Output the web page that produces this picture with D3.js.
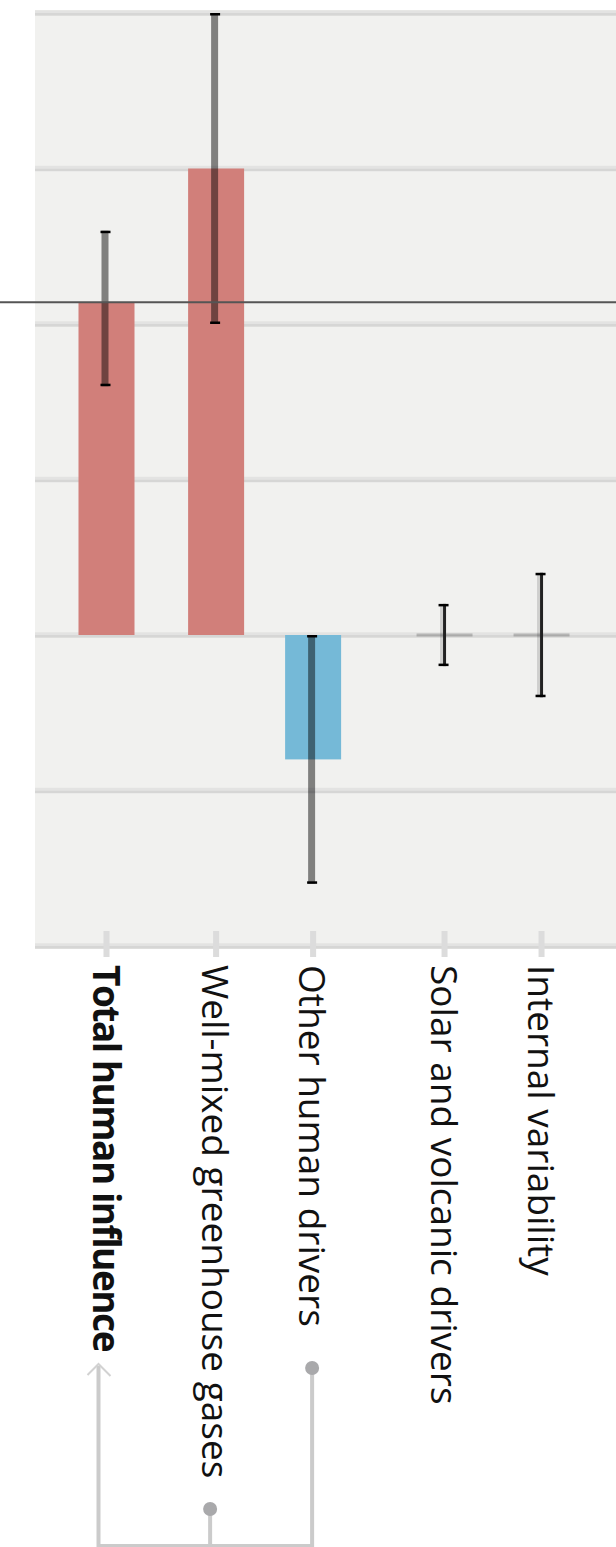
<!DOCTYPE html>
<html>
<head>
<meta charset="utf-8">
<script src="https://cdn.jsdelivr.net/npm/d3@7"></script>
<style>
  html, body { margin: 0; padding: 0; background: #ffffff; }
  svg { display: block; }
</style>
</head>
<body>
<svg id="chart" width="616" height="1547"></svg>
<script>
// Contributions to warming (°C), with likely ranges
const categories = [
  "Total human influence",
  "Well-mixed greenhouse gases",
  "Other human drivers",
  "Solar and volcanic drivers",
  "Internal variability"
];
const groups = ["total", "human", "human", "natural", "natural"];
const values = [1.07, 1.5, -0.4, 0.0, 0.0];
const lowValues = [0.8, 1.0, -0.8, -0.1, -0.2];
const highValues = [1.3, 2.0, 0.0, 0.1, 0.2];
const observedWarming = 1.07;
const yTicks = [-1, -0.5, 0, 0.5, 1, 1.5, 2];
const emphasised = ["Total human influence"];

const W = 616;
const svg = d3.select("#chart");

const plotLeft = 35;
const y = d3.scaleLinear().domain([-1, 2]).range([946, 13]);

// Bars sit on evenly spaced slots, with extra room between groups
const slot = d3.scaleLinear().domain([0, 1]).range([106.5, 203.5]);
const groupShift = { total: 0, human: 0.13, natural: 0.485 };
const x = d3.scaleOrdinal()
  .domain(categories)
  .range(categories.map((c, i) => slot(i + groupShift[groups[i]])));
const barWidth = 56;

const rows = categories.map((c, i) => ({
  name: c, group: groups[i], value: values[i], lo: lowValues[i], hi: highValues[i]
}));

// Plot panel
svg.append("rect")
  .attr("x", plotLeft).attr("y", y(2) - 3)
  .attr("width", W - plotLeft).attr("height", y(-1) - y(2) + 6)
  .attr("fill", "#f1f1ef");

// Gridlines
const grid = svg.append("g");
grid.selectAll("rect.gl").data(yTicks).join("rect")
  .attr("class", "gl")
  .attr("x", plotLeft).attr("width", W - plotLeft)
  .attr("y", d => y(d) - 2.7).attr("height", 2.7)
  .attr("fill", "#e3e3e2");
grid.selectAll("rect.gd").data(yTicks).join("rect")
  .attr("class", "gd")
  .attr("x", plotLeft).attr("width", W - plotLeft)
  .attr("y", d => y(d)).attr("height", 2.7)
  .attr("fill", "#d6d6d5");

// Category ticks under the panel
svg.append("g").selectAll("rect").data(categories).join("rect")
  .attr("x", d => x(d) - 3).attr("width", 6)
  .attr("y", 931).attr("height", 26)
  .attr("fill", "#dcdcdc");

// Bars
const bars = svg.append("g");
bars.selectAll("rect").data(rows.filter(d => d.value !== 0)).join("rect")
  .attr("x", d => x(d.name) - barWidth / 2)
  .attr("width", barWidth)
  .attr("y", d => y(Math.max(0, d.value)))
  .attr("height", d => Math.abs(y(d.value) - y(0)))
  .attr("fill", d => d.value > 0 ? "#d17f7a" : "#75b9d7");
bars.selectAll("line").data(rows.filter(d => d.value === 0)).join("line")
  .attr("x1", d => x(d.name) - barWidth / 2)
  .attr("x2", d => x(d.name) + barWidth / 2)
  .attr("y1", d => y(d.value)).attr("y2", d => y(d.value))
  .attr("stroke", "rgba(0,0,0,0.2)").attr("stroke-width", 3);

// Likely ranges
const err = svg.append("g");
err.selectAll("line.wide").data(rows.filter(d => d.value !== 0)).join("line")
  .attr("class", "wide")
  .attr("x1", d => x(d.name) - 1.5).attr("x2", d => x(d.name) - 1.5)
  .attr("y1", d => y(d.lo)).attr("y2", d => y(d.hi))
  .attr("stroke", "rgba(0,0,0,0.47)").attr("stroke-width", 7);
err.selectAll("line.soft").data(rows.filter(d => d.value === 0)).join("line")
  .attr("class", "soft")
  .attr("x1", d => x(d.name) - 3).attr("x2", d => x(d.name) - 3)
  .attr("y1", d => y(d.lo)).attr("y2", d => y(d.hi))
  .attr("stroke", "rgba(0,0,0,0.14)").attr("stroke-width", 3);
err.selectAll("line.core").data(rows.filter(d => d.value === 0)).join("line")
  .attr("class", "core")
  .attr("x1", d => x(d.name)).attr("x2", d => x(d.name))
  .attr("y1", d => y(d.lo)).attr("y2", d => y(d.hi))
  .attr("stroke", "#222").attr("stroke-width", 3);
err.selectAll("rect.top").data(rows).join("rect")
  .attr("class", "top")
  .attr("x", d => x(d.name) - 6).attr("width", 10)
  .attr("y", d => y(d.hi)).attr("height", 2.5)
  .attr("fill", "#000");
err.selectAll("rect.bot").data(rows).join("rect")
  .attr("class", "bot")
  .attr("x", d => x(d.name) - 6).attr("width", 10)
  .attr("y", d => y(d.lo) - 2.5).attr("height", 2.5)
  .attr("fill", "#000");

// Observed warming reference line
svg.append("line")
  .attr("x1", 0).attr("x2", W)
  .attr("y1", y(observedWarming)).attr("y2", y(observedWarming))
  .attr("stroke", "#555").attr("stroke-width", 2.2);

// Category labels, read top to bottom
const labels = svg.append("g");
labels.selectAll("text").data(categories).join("text")
  .attr("transform", d => `translate(${x(d)},965) rotate(90)`)
  .attr("x", 0).attr("y", 14)
  .attr("text-anchor", "start")
  .attr("font-family", "'Segoe UI', 'Open Sans', sans-serif")
  .attr("font-size", 37)
  .attr("font-weight", d => emphasised.includes(d) ? 700 : 400)
  .attr("letter-spacing", d => emphasised.includes(d) ? -1.5 : 0)
  .attr("fill", "#111")
  .text(d => d);

// Bracket: total human influence = greenhouse gases + other human drivers
const bracket = svg.append("g")
  .attr("fill", "none").attr("stroke", "#cbcbcb").attr("stroke-width", 4);
const bx0 = x(categories[0]) - 8;
const bx1 = x(categories[1]) - 6;
const bx2 = x(categories[2]) - 1;
const baseY = 1546;
bracket.append("path").attr("d", `M${bx0},1366 V${baseY} H${bx2} V1368`);
bracket.append("path").attr("d", `M${bx1},${baseY} V1509`);
bracket.append("path")
  .attr("d", `M${bx0 - 11},1375 L${bx0},1364 L${bx0 + 12},1376`)
  .attr("stroke", "#d2d2d2").attr("stroke-width", 2);
svg.append("g").selectAll("circle").data([[bx1, 1509], [bx2, 1368]]).join("circle")
  .attr("cx", d => d[0]).attr("cy", d => d[1]).attr("r", 7)
  .attr("fill", "#a9a9ab");
</script>
</body>
</html>
